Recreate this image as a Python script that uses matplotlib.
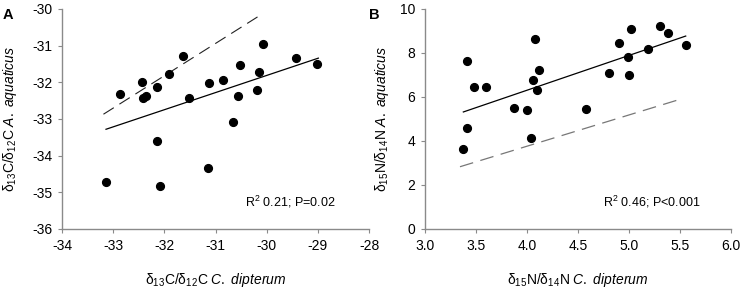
import matplotlib
matplotlib.use("Agg")
import matplotlib.pyplot as plt

plt.rcParams['font.family'] = ['Liberation Sans', 'DejaVu Sans']
plt.rcParams['mathtext.fontset'] = 'custom'
plt.rcParams['mathtext.rm'] = 'Liberation Sans'
plt.rcParams['mathtext.it'] = 'Liberation Sans:italic'
plt.rcParams['mathtext.bf'] = 'Liberation Sans:bold'

# Panel A: carbon
a_x = [-32.87, -32.44, -32.41, -32.35, -32.15, -31.91, -31.63, -31.51, -31.12, -30.86,
       -30.53, -30.57, -30.66, -30.15, -30.19, -30.07, -29.42, -29.01, -32.15, -33.14,
       -32.08, -31.15]
a_y = [-32.31, -31.98, -32.42, -32.36, -32.14, -31.77, -31.27, -32.43, -32.02, -31.93,
       -31.54, -32.38, -33.07, -31.73, -32.21, -30.95, -31.33, -31.50, -33.60, -34.71,
       -34.83, -34.33]
a_fit_x = [-33.14, -28.99]
a_fit_y = [-33.28, -31.34]
a_ref_x = [-33.19, -30.07]
a_ref_y = [-32.87, -30.12]
a_xticks = [-34, -33, -32, -31, -30, -29, -28]
a_yticks = [-36, -35, -34, -33, -32, -31, -30]

# Panel B: nitrogen
b_x = [3.415, 3.48, 3.60, 3.41, 3.37, 3.876, 4.00, 4.08, 4.12, 4.06, 4.10, 4.04, 4.58,
       4.80, 4.905, 4.99, 5.00, 5.02, 5.19, 5.30, 5.385, 5.556]
b_y = [7.64, 6.45, 6.45, 4.60, 3.65, 5.51, 5.42, 8.65, 7.24, 6.77, 6.30, 4.12, 5.44,
       7.10, 8.47, 7.80, 7.00, 9.09, 8.20, 9.21, 8.89, 8.35]
b_fit_x = [3.376, 5.556]
b_fit_y = [5.32, 8.77]
b_ref_x = [3.343, 5.49]
b_ref_y = [2.83, 5.88]
b_xticks = [3.0, 3.5, 4.0, 4.5, 5.0, 5.5, 6.0]
b_yticks = [0, 2, 4, 6, 8, 10]

fig = plt.figure(figsize=(7.43, 2.91), dpi=100)
axA = fig.add_axes([62/743, 1-229/291, 307/743, 220/291])
axB = fig.add_axes([425/743, 1-229/291, 306/743, 220/291])

spine_c = '#8a8a8a'

def style(ax):
    for s in ['top', 'right']:
        ax.spines[s].set_visible(False)
    for s in ['left', 'bottom']:
        ax.spines[s].set_color(spine_c)
        ax.spines[s].set_linewidth(1.0)
    ax.tick_params(direction='out', length=3, width=0.8, color=spine_c,
                   labelsize=10, pad=4, labelcolor='black')

# A
axA.plot(a_x, a_y, 'o', color='black', ms=5.6, zorder=3)
axA.plot(a_fit_x, a_fit_y, '-', color='black', lw=0.9)
axA.plot(a_ref_x, a_ref_y, '--', color='#222222', lw=0.8, dashes=(11, 6))
axA.set_xlim(-34, -28)
axA.set_ylim(-36, -30)
axA.set_xticks(a_xticks)
axA.set_yticks(a_yticks)
axA.set_xticklabels([str(v) for v in a_xticks])
axA.set_yticklabels([str(v) for v in a_yticks])
style(axA)
axA.set_xlabel(r'δ$_{13}$C/δ$_{12}$C $\mathit{C.\ dipterum}$', fontsize=10)
axA.set_ylabel(r'δ$_{13}$C/δ$_{12}$C $\mathit{A.\ aquaticus}$', fontsize=10)
axA.xaxis.set_label_coords(0.5, -0.19)
axA.yaxis.set_label_coords(-0.14, 0.5)
axA.text(0.745, 0.125, r'R$^{2}$ 0.21; P=0.02', transform=axA.transAxes,
         fontsize=9, ha='center', va='center')
fig.text(3/743, 1-8/291, 'A', fontsize=10.5, fontweight='bold', ha='left', va='top')

# B
axB.plot(b_x, b_y, 'o', color='black', ms=5.6, zorder=3)
axB.plot(b_fit_x, b_fit_y, '-', color='black', lw=0.9)
axB.plot(b_ref_x, b_ref_y, '--', color='#777777', lw=0.9, dashes=(11, 6))
axB.set_xlim(3.0, 6.0)
axB.set_ylim(0, 10)
axB.set_xticks(b_xticks)
axB.set_yticks(b_yticks)
axB.set_xticklabels([f'{v:.1f}' for v in b_xticks])
axB.set_yticklabels([str(v) for v in b_yticks])
style(axB)
axB.set_xlabel(r'δ$_{15}$N/δ$_{14}$N $\mathit{C.\ dipterum}$', fontsize=10)
axB.set_ylabel(r'δ$_{15}$N/δ$_{14}$N $\mathit{A.\ aquaticus}$', fontsize=10)
axB.xaxis.set_label_coords(0.5, -0.19)
axB.yaxis.set_label_coords(-0.11, 0.5)
axB.text(0.74, 0.125, r'R$^{2}$ 0.46; P<0.001', transform=axB.transAxes,
         fontsize=9, ha='center', va='center')
fig.text(369/743, 1-8/291, 'B', fontsize=10.5, fontweight='bold', ha='left', va='top')

fig.savefig('out.png', dpi=100)
